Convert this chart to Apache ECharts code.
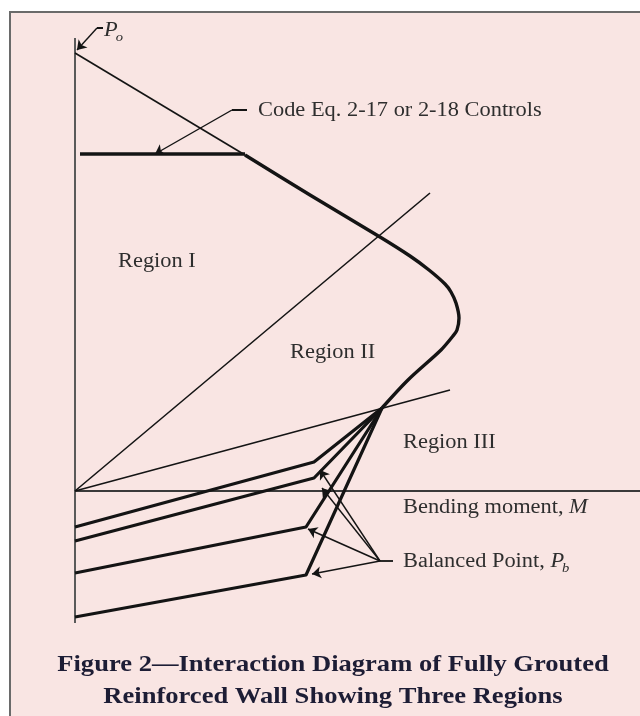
<!DOCTYPE html>
<html><head><meta charset="utf-8">
<script src="https://cdn.jsdelivr.net/npm/echarts@6.0.0/dist/echarts.min.js"></script>
<style>html,body{margin:0;padding:0;background:#fff}#c{width:640px;height:716px}</style>
</head><body><div id="c"></div>
<script>
// Diagram units: M = bending moment (to the right), P = axial load (up).
const capacityCurveM = [170, 235, 305, 335, 354, 370, 376, 381, 384, 382, 378, 366, 333, 307];
const capacityCurveP = [336, 296, 254, 235, 221, 207, 199, 188, 173, 161, 155, 141, 111, 83];
const codeCapM = [5, 170];
const codeCapP = [337, 337];
const poLineM = [0, 170];
const poLineP = [438, 336];
const boundaryI_II_M = [0, 355];
const boundaryI_II_P = [0, 298];
const boundaryII_III_M = [0, 375];
const boundaryII_III_P = [0, 101];
const balancedM = 307, balancedP = 83;
const bentStartP = [-36, -50, -82, -126];
const bentKneeM = [239, 239, 231, 231];
const bentKneeP = [29, 13, -36, -84];
const axisTopP = 453, axisBottomP = -132, axisRightM = 565;
const leaderTipM = [245, 247, 233, 237];
const leaderTipP = [21, 3, -38, -83];
const bpLabelAnchor = [305, -70], bpDashEnd = [318, -70];
const codeAnchor = [157, 381], codeDashEnd = [172, 381], codeTip = [80, 337];
const poAnchor = [22, 463], poDashEnd = [28, 463], poTip = [2, 441];
const regionLabels = ['Region I', 'Region II', 'Region III'];
const codeLabel = 'Code Eq. 2-17 or 2-18 Controls';
const titleLines = ['Figure 2\u2014Interaction Diagram of Fully Grouted', 'Reinforced Wall Showing Three Regions'];

const zip = (a, b) => a.map((v, i) => [v, b[i]]);
const LINE = '#141414';
function lineSeries(data, width, color) {
  return { type: 'line', data: data, showSymbol: false, symbol: 'none', silent: true, animation: false,
           lineStyle: { width: width, color: color || LINE, cap: 'butt', join: 'round' }, z: 3 };
}
const series = [];
// axes drawn as data lines
series.push(lineSeries([[0, axisTopP], [0, axisBottomP]], 2, '#5a5a5a'));
series.push(lineSeries([[0, 0], [axisRightM, 0]], 2, '#3a3a3a'));
// thin guide lines
series.push(lineSeries(zip(poLineM, poLineP), 1.6));
series.push(lineSeries(zip(boundaryI_II_M, boundaryI_II_P), 1.6));
series.push(lineSeries(zip(boundaryII_III_M, boundaryII_III_P), 1.6));
// thick capacity curve
series.push(lineSeries(zip(codeCapM, codeCapP), 3.6));
series.push(Object.assign(lineSeries(zip(capacityCurveM, capacityCurveP), 3.4), { smooth: 0.3 }));
// bent lines in region III
for (let i = 0; i < bentStartP.length; i++) {
  series.push(lineSeries([[0, bentStartP[i]], [bentKneeM[i], bentKneeP[i]], [balancedM, balancedP]], 3.2));
}
// leaders with arrows
const arrowData = [];
for (let i = 0; i < leaderTipM.length; i++) arrowData.push({ coords: [bpLabelAnchor, [leaderTipM[i], leaderTipP[i]]] });
arrowData.push({ coords: [codeAnchor, codeTip] });
arrowData.push({ coords: [poAnchor, poTip] });
series.push({ type: 'lines', coordinateSystem: 'cartesian2d', silent: true, animation: false, z: 4,
  symbol: ['none', 'arrow'], symbolSize: [0, 9], lineStyle: { color: LINE, width: 1.4, opacity: 1 }, data: arrowData });
series.push(lineSeries([bpLabelAnchor, bpDashEnd], 1.8));
series.push(lineSeries([codeAnchor, codeDashEnd], 2));
series.push(lineSeries([poAnchor, poDashEnd], 2));

const chart = echarts.init(document.getElementById('c'), null, { renderer: 'canvas' });

const ctx = document.createElement('canvas').getContext('2d');
function tw(text, font) { ctx.font = font; return ctx.measureText(text).width; }

const SERIF = '"Liberation Serif","Times New Roman",serif';
const LBL = 20, SX = 1.12, TXT = '#2e2e2e';
const fontR = LBL + 'px ' + SERIF;
const fontI = 'italic ' + LBL + 'px ' + SERIF;
const fontSub = 'italic 13px ' + SERIF;
function txt(x, y, text, font, opts) {
  opts = opts || {};
  return { type: 'text', x: x, y: y, scaleX: opts.sx || SX, z: 10, silent: true,
    style: { text: text, font: font, fill: opts.fill || TXT, textAlign: opts.align || 'left', textVerticalAlign: 'middle' } };
}
const g = [];
g.push({ type: 'rect', z: -10, silent: true, shape: { x: 10, y: 12, width: 700, height: 800 },
         style: { fill: '#f9e5e3', stroke: '#6a6a6a', lineWidth: 2 } });
g.push(txt(258, 111, codeLabel, fontR));
g.push(txt(118, 262, regionLabels[0], fontR));
g.push(txt(290, 353, regionLabels[1], fontR));
g.push(txt(403, 443, regionLabels[2], fontR));
const bm = 'Bending moment, ';
g.push(txt(403, 508, bm, fontR));
g.push(txt(403 + tw(bm, fontR) * SX, 508, 'M', fontI));
const bp = 'Balanced Point, ';
g.push(txt(403, 562, bp, fontR));
const px = 403 + tw(bp, fontR) * SX;
g.push(txt(px, 562, 'P', fontI));
g.push(txt(px + tw('P', fontI) * SX - 2, 569, 'b', fontSub));
g.push(txt(104, 31, 'P', fontI));
g.push(txt(104 + tw('P', fontI) * SX - 2, 38, 'o', fontSub));
const TF = 'bold 23.5px ' + SERIF;
g.push(txt(333, 665, titleLines[0], TF, { align: 'center', fill: '#1d1d35', sx: 1.13 }));
g.push(txt(333, 697, titleLines[1], TF, { align: 'center', fill: '#1d1d35', sx: 1.13 }));

chart.setOption({
  backgroundColor: '#ffffff',
  animation: false,
  grid: { left: 0, right: 0, top: 0, bottom: 0, containLabel: false },
  xAxis: { type: 'value', min: -75, max: 565, show: false },
  yAxis: { type: 'value', min: -225, max: 491, show: false },
  series: series,
  graphic: g
});
</script></body></html>
